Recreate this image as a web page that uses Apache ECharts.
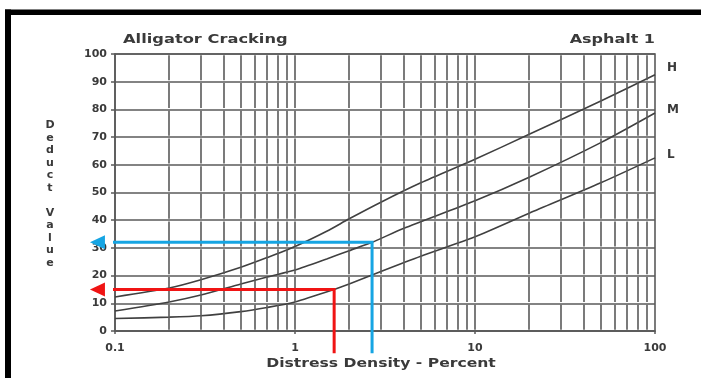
<!DOCTYPE html>
<html>
<head>
<meta charset="utf-8">
<script src="https://cdn.jsdelivr.net/npm/echarts@6/dist/echarts.min.js"></script>
<style>
  html, body { margin: 0; padding: 0; background: #fff; }
  #chart { width: 701px; height: 378px; }
</style>
</head>
<body>
<div id="chart"></div>
<script>
// Deduct curves for alligator cracking, by severity (distress density in %, deduct value)
const densityH = [0.1, 0.2, 0.3, 0.5, 0.7, 1, 1.5, 2, 3, 5, 10, 20, 50, 100];
const deductH  = [12.3, 15.5, 18.5, 23, 26.5, 30.5, 36, 40.5, 46.5, 53.5, 62, 71, 83, 92.5];

const densityM = [0.1, 0.2, 0.3, 0.5, 0.7, 1, 1.5, 2, 2.68, 4, 10, 20, 50, 100];
const deductM  = [7.2, 10.5, 13, 17, 19.5, 22, 26, 29, 32, 37, 47, 55.5, 68, 78.7];

const densityL = [0.1, 0.2, 0.3, 0.5, 0.7, 1, 1.65, 2, 3, 5, 10, 20, 50, 100];
const deductL  = [4.5, 5, 5.5, 7, 8.5, 10.5, 15, 17, 21.5, 27, 34, 42.5, 53.5, 62.5];

const severityNames = ['H', 'M', 'L'];

// Worked readings: density read up to a curve, then across to the deduct value
const blueReading = [2.68, 32];
const redReading  = [1.65, 15];
// Where the reading arrows start (below the axis) and end (left of the axis)
const readingFootDeduct = -8;
const readingTipDensity = 0.0799;

const xTickLabels = ['0.1', '1', '10', '100'];
const titleText = 'Alligator Cracking';
const subtitleText = 'Asphalt 1';
const xAxisTitle = 'Distress Density - Percent';
const yAxisTitle = 'Deduct Value';

// Log-cycle grid: 2..9 within each decade plus the decade lines
const gridDensities = [];
[0.1, 1, 10].forEach(function (d) {
  for (let k = (d === 0.1 ? 2 : 1); k <= 9; k++) gridDensities.push(+(k * d).toPrecision(3));
});

const zip = (xs, ys) => xs.map((x, i) => [x, ys[i]]);
const FONT = 'DejaVu Sans';
const INK = '#3a3a3a';
const GRID = '#5a5a5a';

const chart = echarts.init(document.getElementById('chart'), null, { renderer: 'canvas' });

function curve(name, xs, ys, labelDy) {
  return {
    name: name, type: 'line', data: zip(xs, ys),
    smooth: 0.25, symbol: 'none', silent: true,
    lineStyle: { color: '#404040', width: 1.6 },
    endLabel: {
      show: true, formatter: name, distance: 0, offset: [12, labelDy],
      fontFamily: FONT, fontWeight: 'bold', fontSize: 12, color: INK
    },
    z: 4
  };
}

function readingPath(color, reading) {
  return {
    type: 'line', clip: false, symbol: 'none', silent: true,
    data: [[reading[0], readingFootDeduct], [reading[0], reading[1]], [readingTipDensity, reading[1]]],
    lineStyle: { color: color, width: 3, join: 'miter' },
    z: 6
  };
}

function readingHead(color, reading) {
  return {
    type: 'scatter', clip: false, silent: true,
    data: [[readingTipDensity, reading[1]]],
    symbol: 'triangle', symbolSize: [14, 15], symbolRotate: 90,
    itemStyle: { color: color, opacity: 1 },
    z: 7
  };
}

const option = {
  animation: false,
  backgroundColor: '#fff',
  grid: {
    left: 115, right: 46, top: 54, bottom: 47,
    show: true, borderColor: GRID, borderWidth: 1.6
  },
  xAxis: {
    type: 'log', logBase: 10, min: 0.1, max: 100,
    axisLine: { show: true, lineStyle: { color: GRID, width: 1.6 } },
    axisTick: { show: true, length: 3, lineStyle: { color: GRID, width: 1.5 } },
    splitLine: { show: false },
    axisLabel: {
      margin: 12, fontFamily: FONT, fontWeight: 'bold', fontSize: 11, color: INK,
      formatter: function (v) { return xTickLabels[Math.round(Math.log10(v)) + 1]; }
    }
  },
  yAxis: {
    type: 'value', min: 0, max: 100, interval: 10,
    axisLine: { show: true, lineStyle: { color: GRID, width: 1.6 } },
    axisTick: { show: true, length: 4, lineStyle: { color: GRID, width: 1.5 } },
    splitLine: { show: true, lineStyle: { color: GRID, width: 1.6 } },
    axisLabel: { margin: 8, fontFamily: FONT, fontWeight: 'bold', fontSize: 11, color: INK }
  },
  graphic: [
    { type: 'rect', shape: { x: 5, y: 9.5, width: 696, height: 5.5 }, style: { fill: '#000' } },
    { type: 'rect', shape: { x: 5, y: 9.5, width: 6, height: 369 }, style: { fill: '#000' } },
    { type: 'text', x: 123, y: 40, scaleX: 1.25,
      style: { text: titleText, font: 'bold 13px "DejaVu Sans"', fill: INK, textAlign: 'left', textVerticalAlign: 'middle' } },
    { type: 'text', x: 655, y: 40, scaleX: 1.23,
      style: { text: subtitleText, font: 'bold 13px "DejaVu Sans"', fill: INK, textAlign: 'right', textVerticalAlign: 'middle' } },
    { type: 'text', x: 381, y: 364, scaleX: 1.3,
      style: { text: xAxisTitle, font: 'bold 12px "DejaVu Sans"', fill: INK, textAlign: 'center', textVerticalAlign: 'middle' } },
    { type: 'text', x: 50, y: 119,
      style: { text: yAxisTitle.split('').join('\n').replace('\n \n', '\n\n'), font: 'bold 11px "DejaVu Sans"',
               lineHeight: 12.5, fill: INK, textAlign: 'center', textVerticalAlign: 'top' } }
  ],
  series: [
    {
      type: 'line', data: [], silent: true,
      markLine: {
        silent: true, symbol: 'none', label: { show: false },
        lineStyle: { color: GRID, width: 1.6, type: [25, 2.7], dashOffset: 26.35 },
        data: gridDensities.map(function (d) { return { xAxis: d }; })
      }
    },
    curve(severityNames[0], densityH, deductH, -7),
    curve(severityNames[1], densityM, deductM, -3),
    curve(severityNames[2], densityL, deductL, -3),
    readingPath('#16a5e3', blueReading),
    readingHead('#16a5e3', blueReading),
    readingPath('#f01414', redReading),
    readingHead('#f01414', redReading)
  ]
};

chart.setOption(option);
</script>
</body>
</html>
